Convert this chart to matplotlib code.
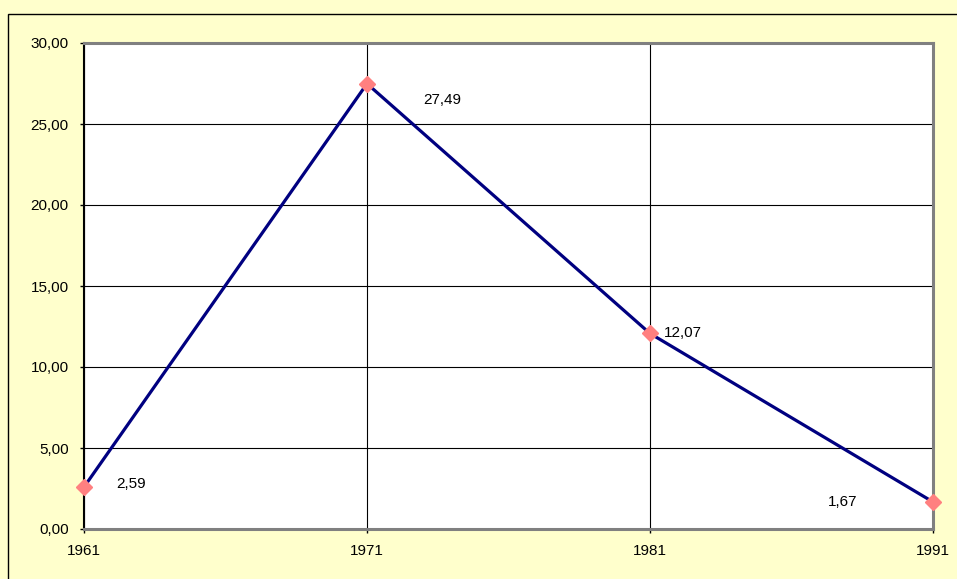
import matplotlib
matplotlib.use('Agg')
import matplotlib.pyplot as plt
from matplotlib.patches import Rectangle

years = [1961, 1971, 1981, 1991]
values = [2.59, 27.49, 12.07, 1.67]
yticks = [0, 5, 10, 15, 20, 25, 30]
# offsets of the value labels (points) from each marker
label_offsets = [(34, 2), (54, -12), (24, 0), (-65, 0)]

plt.rcParams['font.family'] = ['Liberation Sans', 'DejaVu Sans']

fig = plt.figure(figsize=(9.57, 5.79), dpi=100)
fig.patch.set_facecolor('#FFFFCC')

# outer chart border
W, H = 957, 579
fig.patches.append(Rectangle((8 / W, -0.1), 1.2, (H - 14) / H + 0.1,
                             transform=fig.transFigure, fill=False,
                             edgecolor='black', linewidth=1.0))

ax = fig.add_axes([84 / W, 50 / H, 849 / W, 486 / H])
ax.set_facecolor('white')

ax.plot(years, values, color='#000080', linewidth=2.3, zorder=3)
ax.plot(years, values, linestyle='none', marker='D', markersize=8,
        markerfacecolor='#FF8080', markeredgecolor='#FF8080', zorder=4,
        clip_on=False)

for x, y, (dx, dy) in zip(years, values, label_offsets):
    ax.annotate(f"{y:.2f}".replace('.', ','), (x, y), xytext=(dx, dy),
                textcoords='offset points', ha='center', va='center',
                fontsize=11)

ax.set_xlim(1961, 1991)
ax.set_ylim(0, 30)
ax.set_xticks(years)
ax.set_yticks(yticks)
ax.set_yticklabels([f"{v:.2f}".replace('.', ',') for v in yticks])
ax.tick_params(axis='both', labelsize=11, length=3, width=1, colors='black')
ax.tick_params(axis='y', pad=8)
ax.tick_params(axis='x', pad=8)

ax.grid(True, color='black', linewidth=0.8)
ax.set_axisbelow(True)

for side in ['top', 'right', 'bottom']:
    ax.spines[side].set_color('#808080')
    ax.spines[side].set_linewidth(2.2)
ax.spines['left'].set_color('black')
ax.spines['left'].set_linewidth(1.5)

fig.savefig('out.png', dpi=100, facecolor=fig.get_facecolor())
